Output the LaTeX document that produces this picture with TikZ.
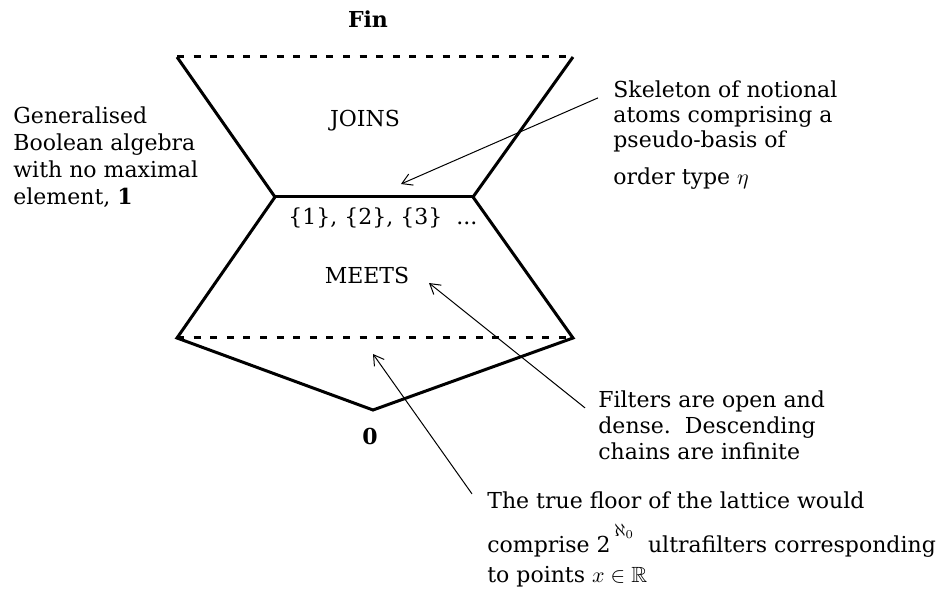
\documentclass[tikz,border=0pt]{standalone}
\usepackage{amssymb}
\usepackage{fontspec}
\setmainfont{DejaVu Serif}
\usetikzlibrary{arrows.meta}

\tikzset{
  edge/.style={line width=1.5pt},
  rim/.style={line width=1.5pt, dash pattern=on 3.5pt off 4.8pt},
  pointer/.style={-{Straight Barb[length=5pt,width=6pt]}, line width=0.5pt},
  txt/.style={font=\fontsize{11}{13}\selectfont, inner sep=0pt},
  note/.style={txt, align=left, anchor=base west},
}

\begin{document}
\begin{tikzpicture}[x=5pt,y=-5pt]
    \useasboundingbox (0,0) rectangle (95,59.3);

    % Corners of the lattice
    \coordinate (tl)  at (17.7,5.7);
    \coordinate (tr)  at (57.3,5.7);
    \coordinate (ml)  at (27.5,19.7);
    \coordinate (mr)  at (47.3,19.7);
    \coordinate (bl)  at (17.7,33.8);
    \coordinate (br)  at (57.3,33.8);
    \coordinate (bot) at (37.3,41.0);

    \draw[edge] (tl) -- (ml) -- (bl) -- (bot) -- (br) -- (mr) -- (tr);
    \draw[edge] (ml) -- (mr);
    \draw[rim] (tl) -- (tr);
    \draw[rim] (bl) -- (br);

    % Labels inside
    \node[txt, anchor=base] (fin) at (36.8,2.8) {\textbf{Fin}};
    \node[txt, anchor=base] (joins) at (36.5,12.7) {JOINS};
    \node[txt, anchor=base west] (atoms) at (28.8,22.5) {\{1\}, \{2\}, \{3\}~~...};
    \node[txt, anchor=base] (meets) at (36.7,28.4) {MEETS};
    \node[txt, anchor=base] (zero) at (37.0,44.5) {\textbf{0}};

    % Notes (placed by their last line)
    \node[note, font=\fontsize{11}{13.5}\selectfont] (gba) at (1.3,20.5)
        {Generalised\\Boolean algebra\\with no maximal\\element, \textbf{1}};
    \node[note, font=\fontsize{11}{12.5}\selectfont] (skel) at (61.3,18.5)
        {Skeleton of notional\\atoms comprising a\\pseudo-basis of\\[6pt]order type $\eta$};
    \node[note] (filt) at (59.8,46.0)
        {Filters are open and\\dense.~~Descending\\chains are infinite};
    \node[note] (floor) at (48.7,58.3)
        {The true floor of the lattice would\\[9pt]comprise 2\,\smash{\raisebox{8pt}{\small$\aleph_0$}}~~ultrafilters corresponding\\[2pt]to points $x \in \mathbb{R}$};

    % Pointers
    \coordinate (skeltip)  at (40.1,18.4);
    \coordinate (meetstip) at (42.9,28.3);
    \coordinate (floortip) at (37.3,35.4);

    \draw[pointer] ([xshift=-7.5pt,yshift=-8.5pt]skel.north west) -- (skeltip);
    \draw[pointer] ([xshift=-6.5pt,yshift=-8.5pt]filt.north west) -- (meetstip);
    \draw[pointer] ([xshift=-7.5pt,yshift=-1pt]floor.north west) -- (floortip);
\end{tikzpicture}
\end{document}
